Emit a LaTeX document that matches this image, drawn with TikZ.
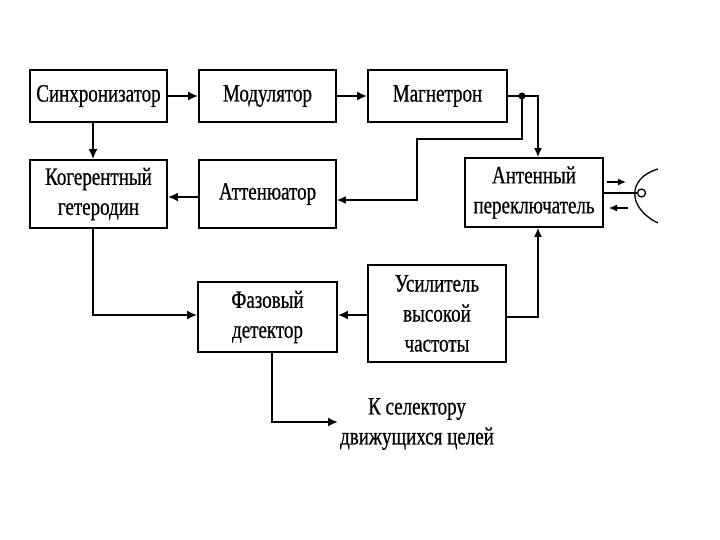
\documentclass[tikz,border=0pt]{standalone}
\usepackage{fontspec}
\setmainfont[FakeStretch=0.76,FakeBold=0.6]{Liberation Serif}
\usetikzlibrary{arrows.meta}
\tikzset{
  blk/.style={draw, line width=1.9pt, align=center, font=\fontsize{25}{30}\selectfont, inner sep=0pt},
  con/.style={line width=1.8pt},
  arr/.style={con, -{Latex[length=10pt,width=9pt]}},
  thin/.style={line width=1.3pt},
}
\begin{document}
\begin{tikzpicture}[x=1pt,y=-1pt]
\useasboundingbox (0,0) rectangle (720,540);
\node[blk, minimum width=137pt, minimum height=52pt] (sync) at (98.5,96) {Синхронизатор};
\node[blk, minimum width=137pt, minimum height=52pt] (mod) at (267.5,96) {Модулятор};
\node[blk, minimum width=139pt, minimum height=52pt] (mag) at (437.5,96) {Магнетрон};
\node[blk, minimum width=137pt, minimum height=68pt] (kog) at (98.5,194) {Когерентный\\гетеродин};
\node[blk, minimum width=137pt, minimum height=68pt] (att) at (267.5,194) {Аттенюатор};
\node[blk, minimum width=138pt, minimum height=69pt] (ant) at (534,192.5) {Антенный\\переключатель};
\node[blk, minimum width=139pt, minimum height=70pt] (phase) at (267.5,317) {Фазовый\\детектор};
\node[blk, minimum width=138pt, minimum height=97pt] (usil) at (437,313.5) {Усилитель\\высокой\\частоты};
\node[align=center, font=\fontsize{25}{30}\selectfont] (sel) at (417,424) {К селектору\\движущихся целей};

\coordinate (dot) at (522,96);
\coordinate (d1) at (522,139);
\coordinate (d2) at (417,139);
\coordinate (d3) at (417,200);
\coordinate (m1) at (538,96);
\coordinate (s1) at (93,96);
\coordinate (k1) at (93,315);
\coordinate (u1) at (538,317);
\coordinate (p1) at (272,422);
\coordinate (p2) at (338,422);

\draw[arr] (sync.east) -- (mod.west);
\draw[arr] (mod.east) -- (mag.west);
\draw[con] (mag.east) -- (dot);
\draw[thin, -{Latex[length=9pt,width=8pt]}] (dot) -- (m1) -- (m1 |- ant.north);
\draw[thin, -{Latex[length=9pt,width=8pt]}] (dot) -- (d1) -- (d2) -- (d3) -- (att.east |- d3);
\fill (dot) circle (3.5pt);
\draw[arr] (att.west |- 0,197) -- (kog.east |- 0,197);
\draw[arr] (sync.south -| s1) -- (kog.north -| s1);
\draw[arr] (kog.south -| k1) -- (k1) -- (phase.west |- k1);
\draw[arr] (usil.west |- k1) -- (phase.east |- k1);
\draw[thin, -{Latex[length=9pt,width=8pt]}] (usil.east |- u1) -- (u1) -- (u1 |- ant.south);
\draw[arr] (phase.south -| p1) -- (p1) -- (p2);

% antenna
\coordinate (a0) at (637,193);
\draw[thin] (ant.east |- a0) -- (a0);
\draw[thin] (641.5,193) circle (4pt);
\draw[thin] (658,169) .. controls (627,178) and (627,208) .. (658,223);
\draw[thin, -{Latex[length=8pt,width=7pt]}] (607,182) -- (626,182);
\draw[thin, -{Latex[length=8pt,width=7pt]}] (628,208) -- (609,208);
\end{tikzpicture}
\end{document}
